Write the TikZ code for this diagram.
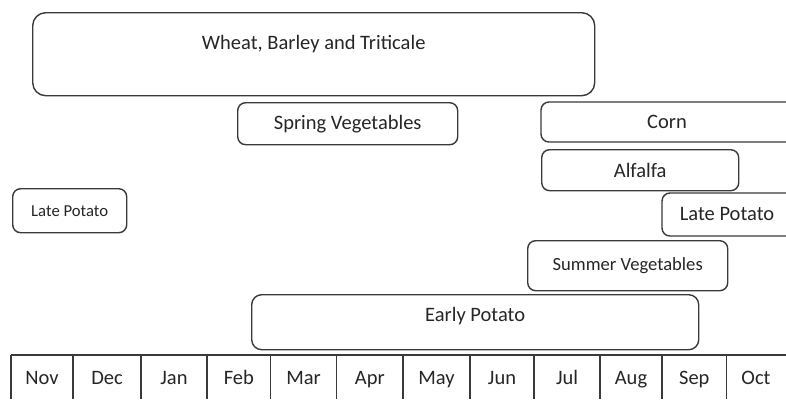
\documentclass[tikz,border=0pt]{standalone}
\usepackage{fontspec}
\setmainfont{Carlito}
\definecolor{linec}{HTML}{3A3A3A}
\definecolor{textc}{HTML}{262626}
\begin{document}
\begin{tikzpicture}[x=1pt,y=-1pt,
  box/.style={draw=linec, line width=1.4pt, rounded corners=8pt, inner sep=0pt,
    anchor=north west, text=textc, font=\fontsize{20.5}{24}\selectfont},
  openbox/.style={draw=linec, line width=1.4pt, rounded corners=8pt},
  lbl/.style={text=textc, inner sep=0pt, font=\fontsize{20.5}{24}\selectfont},
  tab/.style={draw=linec, line width=1.3pt}]
\useasboundingbox (0,0) rectangle (786,399);
\fill[white] (0,0) rectangle (786,399);
% crop boxes
\node[box, rounded corners=13pt, minimum width=562pt, minimum height=83pt] (wheat) at (32,12) {};
\node[lbl] (wheatt) at ([yshift=10.5pt]wheat.center) {Wheat, Barley and Triticale};
\node[box, minimum width=220pt, minimum height=42pt] (spring) at (237,102) {Spring Vegetables};
% boxes running past the right edge: drawn open
\draw[openbox] (786,102) -- (541,102) -- (541,142) -- (786,142);
\node[lbl] (corn) at (667,122) {Corn};
\node[box, minimum width=197pt, minimum height=41pt] (alfalfa) at (541,149) {Alfalfa};
\draw[openbox] (786,193) -- (662,193) -- (662,236) -- (786,236);
\node[lbl] (latepotr) at (727,214) {Late Potato};
\node[box, minimum width=200pt, minimum height=50pt, font=\fontsize{18.6}{22}\selectfont] (summer) at (527,240) {Summer Vegetables};
\node[box, minimum width=114pt, minimum height=44pt, font=\fontsize{16.7}{20}\selectfont] (latepotl) at (12,188) {Late Potato};
\node[box, rounded corners=10pt, minimum width=447pt, minimum height=55pt] (early) at (251,294) {};
\node[lbl] (earlyt) at ([yshift=6.5pt]early.center) {Early Potato};
% month table
\draw[tab] (11,355) -- (786,355);
\foreach \x in {11,73,141,207,270.5,336.5,403,470,534,600,662,726.5}
  \draw[tab] (\x,355) -- (\x,399);
\foreach \c/\m [count=\i] in {42/Nov,107/Dec,174/Jan,238.8/Feb,303.5/Mar,369.8/Apr,436.5/May,502/Jun,567/Jul,631/Aug,694.3/Sep,756/Oct}
  \node[lbl, anchor=base] (m\i) at (\c,384.5) {\m};
\end{tikzpicture}
\end{document}
